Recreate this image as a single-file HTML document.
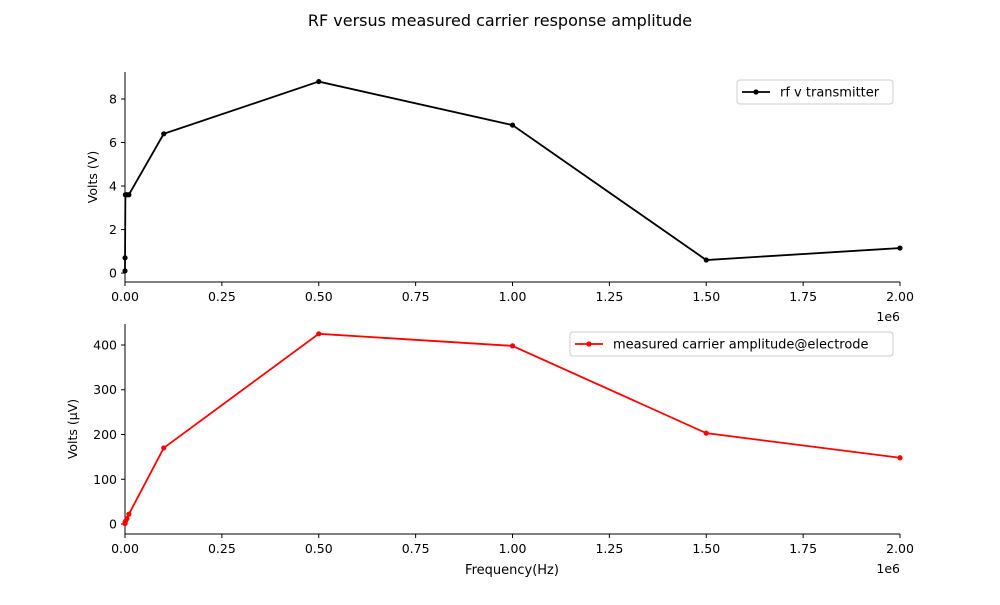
<!DOCTYPE html>
<html><head><meta charset="utf-8"><style>
body{margin:0;background:#fff}
svg{font-family:"DejaVu Sans","Liberation Sans",sans-serif}
</style></head><body>
<svg id="c" width="1000" height="600"></svg>
<script>
const freqs=[10,100,1000,5000,10000,100000,500000,1000000,1500000,2000000];
const rfVolts=[0.1,0.7,3.6,3.6,3.6,6.4,8.8,6.8,0.6,1.15];
const carrierUV=[1,3,6,12,22,170,425,398,203,148];
const xTicks=[0,0.25,0.5,0.75,1.0,1.25,1.5,1.75,2.0];
const xTickLabels=["0.00","0.25","0.50","0.75","1.00","1.25","1.50","1.75","2.00"];
const topTicks=[0,2,4,6,8];
const botTicks=[0,100,200,300,400];
const NS="http://www.w3.org/2000/svg";
const svg=document.getElementById('c');
function mk(t,a,txt){const e=document.createElementNS(NS,t);for(const k in a)e.setAttribute(k,a[k]);if(txt!==undefined)e.textContent=txt;svg.appendChild(e);return e;}
const X0=125,X1=900;
const xs=v=>X0+(v/2e6)*(X1-X0);
function panel(top,bot,ymin,ymax,ticks,vals,color,ylabel,ylx,offY,legend,legX,legW,name){
  const ys=v=>bot-(v-ymin)/(ymax-ymin)*(bot-top);
  let a=mk('line',{x1:X0,y1:top,x2:X0,y2:bot,stroke:'#000','stroke-width':1});
  
  a=mk('line',{x1:X0,y1:bot,x2:X1,y2:bot,stroke:'#000','stroke-width':1});
  
  ticks.forEach(t=>{const y=ys(t);
    mk('line',{x1:X0-4,y1:y,x2:X0,y2:y,stroke:'#000'});
    const l=mk('text',{x:X0-8,y:y+4.5,'text-anchor':'end','font-size':12.5},String(t));
    });
  xTicks.forEach((t,i)=>{const x=xs(t*1e6);
    mk('line',{x1:x,y1:bot,x2:x,y2:bot+4,stroke:'#000'});
    const l=mk('text',{x:x,y:bot+19,'text-anchor':'middle','font-size':12.5},xTickLabels[i]);
    });
  const o=mk('text',{x:X1,y:offY,'text-anchor':'end','font-size':12.5},'1e6');
  
  const yl=mk('text',{x:0,y:0,'text-anchor':'middle','font-size':12.5,transform:`translate(${ylx},${(top+bot)/2}) rotate(-90)`},ylabel);
  
  const pts=freqs.map((f,i)=>xs(f)+','+ys(vals[i])).join(' ');
  const pl=mk('polyline',{points:pts,fill:'none',stroke:color,'stroke-width':1.8});
  
  freqs.forEach((f,i)=>{const c=mk('circle',{cx:xs(f),cy:ys(vals[i]),r:2.6,fill:color});
    });
  const ly=top+8;
  const r=mk('rect',{x:legX,y:ly,width:legW,height:24,rx:3,fill:'#fff',stroke:'#ccc'});
  
  mk('line',{x1:legX+5,y1:ly+12,x2:legX+33,y2:ly+12,stroke:color,'stroke-width':1.8});
  mk('circle',{cx:legX+19,cy:ly+12,r:2.6,fill:color});
  const lt=mk('text',{x:legX+43,y:ly+16.5,'font-size':13},legend);
  
}
const t=mk('text',{x:500,y:26,'text-anchor':'middle','font-size':16},'RF versus measured carrier response amplitude');

panel(72,282,-0.41,9.24,topTicks,rfVolts,'#000','Volts (V)',97,321,'rf v transmitter',737,156,'top-panel');
panel(324,534,-22.3,446.9,botTicks,carrierUV,'red','Volts (\u03BCV)',77,573,'measured carrier amplitude@electrode',570,323,'bottom-panel');
const xl=mk('text',{x:512,y:574,'text-anchor':'middle','font-size':13},'Frequency(Hz)');

</script>
</body></html>
